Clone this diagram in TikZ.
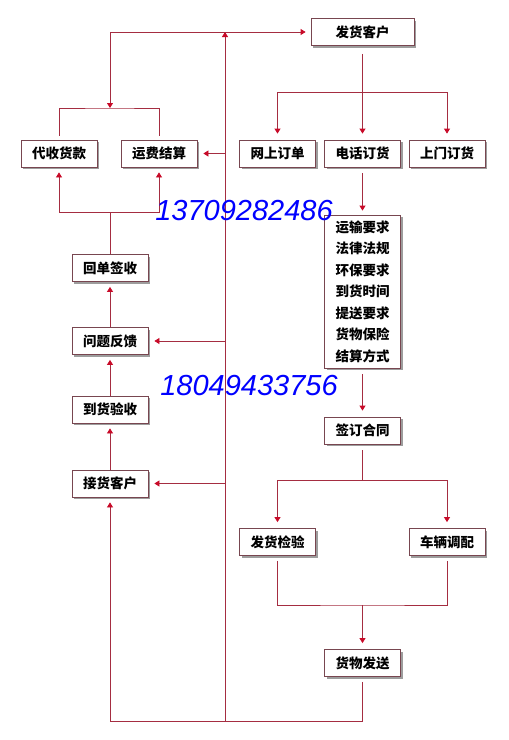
\documentclass[tikz,border=0pt]{standalone}
\usepackage{fontspec}
\newfontfamily\cjk{Noto Sans CJK SC}
\newfontfamily\numfont{Liberation Sans}
\usetikzlibrary{arrows.meta,shadows}
\definecolor{linec}{RGB}{165,45,65}
\definecolor{tipc}{RGB}{200,10,40}
\definecolor{boxc}{RGB}{120,70,80}
\begin{document}
\begin{tikzpicture}[x=1pt,y=-1pt,
  box/.style={draw=boxc,line width=0.8pt,fill=white,minimum width=76pt,minimum height=27pt,inner sep=0pt,
    font=\cjk\bfseries\fontsize{13.5}{16}\selectfont,
    drop shadow={shadow xshift=2pt,shadow yshift=-2pt,fill=black!55,opacity=0.7}},
  conn/.style={draw=linec,line width=0.8pt},
  arr/.style={conn,-{Triangle[width=6pt,length=5pt,fill=tipc,color=tipc]}},
  phone/.style={text=blue,font=\numfont\itshape\fontsize{29}{30}\selectfont,inner sep=0pt}]
\path[use as bounding box] (0,0) rectangle (509,740);

% boxes
\node[box,minimum width=103pt] (fhkh) at (362.5,32) {发货客户};
\node[box] (dshk) at (59,153.5) {代收货款};
\node[box] (yfjs) at (159,153.5) {运费结算};
\node[box] (wsdd) at (277.5,153.5) {网上订单};
\node[box] (dhdh) at (362.5,153.5) {电话订货};
\node[box] (smdh) at (447,153.5) {上门订货};
\node[box,minimum height=153pt,align=center,font=\cjk\bfseries\fontsize{13.5}{21.5}\selectfont] (yq) at (362.5,291.5)
  {运输要求\\法律法规\\环保要求\\到货时间\\提送要求\\货物保险\\结算方式};
\node[box] (hdqs) at (110,268) {回单签收};
\node[box] (wtfk) at (110,341) {问题反馈};
\node[box] (dhys) at (110,409.5) {到货验收};
\node[box] (jhkh) at (110,483.5) {接货客户};
\node[box] (qdht) at (362.5,430.5) {签订合同};
\node[box] (fhjy) at (277.5,542) {发货检验};
\node[box] (cldp) at (447,542) {车辆调配};
\node[box] (hwfs) at (362.5,663) {货物发送};

% junction coordinates
\coordinate (vb) at (225,721);
\coordinate (vt) at (225,32);
\coordinate (tl) at (110,32);
\coordinate (jt) at (110,108);
\coordinate (jo) at (362.5,92);
\coordinate (jb) at (110,212);
\coordinate (jc) at (362.5,480);
\coordinate (jd) at (362.5,605);
\coordinate (bl) at (110,721);

% main trunk
\draw[arr] (vb) -- (vt);
\draw[arr,shorten >=5pt] (tl) -- (fhkh.west);
\draw[arr] (tl) -- (jt);
\draw[conn,shorten <=4pt,shorten >=4pt] (dshk.north) |- (jt) -| (yfjs.north);
\draw[arr,shorten >=6pt] (vt |- yfjs) -- (yfjs.east);
\draw[arr,shorten >=6pt] (vt |- wtfk) -- (wtfk.east);
\draw[arr,shorten >=6pt] (vt |- jhkh) -- (jhkh.east);

% top right
\draw[arr,shorten <=8pt,shorten >=6pt] (fhkh.south) -- (dhdh.north);
\draw[arr,shorten >=6pt] (jo) -| (wsdd.north);
\draw[arr,shorten >=6pt] (jo) -| (smdh.north);
\draw[arr,shorten <=6pt,shorten >=4pt] (dhdh.south) -- (yq.north);
\draw[arr,shorten <=6pt,shorten >=6pt] (yq.south) -- (qdht.north);
\draw[conn,shorten <=6pt] (qdht.south) -- (jc);
\draw[arr,shorten >=6pt] (jc) -| (fhjy.north);
\draw[arr,shorten >=6pt] (jc) -| (cldp.north);
\draw[conn,shorten <=5pt,shorten >=5pt] (fhjy.south) |- (jd) -| (cldp.south);
\draw[arr,shorten >=6pt] (jd) -- (hwfs.north);

% left column
\draw[conn] (hdqs.north) -- (jb);
\draw[arr,shorten >=5pt] (jb) -| (dshk.south);
\draw[arr,shorten >=5pt] (jb) -| (yfjs.south);
\draw[arr,shorten >=5pt] (wtfk.north) -- (hdqs.south);
\draw[arr,shorten >=5pt] (dhys.north) -- (wtfk.south);
\draw[arr,shorten >=5pt] (jhkh.north) -- (dhys.south);
\draw[arr,shorten <=5pt,shorten >=5pt] (hwfs.south) |- (bl) -- (jhkh.south);

% phone numbers (on top)
\node[phone] (p1) at (244,211) {13709282486};
\node[phone] (p2) at (249,386) {18049433756};
\end{tikzpicture}
\end{document}
